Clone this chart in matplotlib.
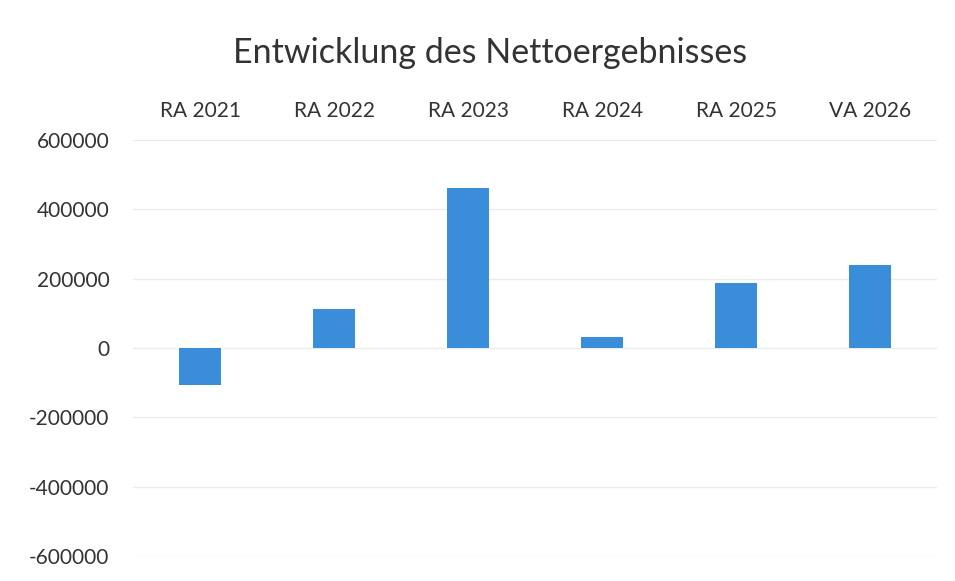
import matplotlib.pyplot as plt
import numpy as np

plt.rcParams['font.family'] = ['Lato', 'DejaVu Sans']

# Daten
jahre = ["RA 2021", "RA 2022", "RA 2023", "RA 2024", "RA 2025", "VA 2026"]
nettoergebnis = [-108000, 113000, 461000, 33000, 187000, 240000]
y_ticks = [-600000, -400000, -200000, 0, 200000, 400000, 600000]

fig = plt.figure(figsize=(9.55, 5.81), dpi=100)
ax = fig.add_axes([133 / 955, 1 - 556 / 581, (937 - 133) / 955, (556 - 140) / 581])

x = np.arange(len(jahre))
ax.bar(x, nettoergebnis, width=0.32, color="#3a8dd8", zorder=3)

ax.set_xlim(-0.5, len(jahre) - 0.5)
ax.set_ylim(-600000, 600000)
ax.set_yticks(y_ticks)
ax.set_yticklabels([str(v) for v in y_ticks], fontsize=15, color="#333333")
ax.yaxis.grid(True, color="#ececec", linewidth=1, zorder=0)

ax.xaxis.tick_top()
ax.set_xticks(x)
ax.set_xticklabels(jahre, fontsize=15, color="#333333")
ax.tick_params(axis="both", length=0)
ax.tick_params(axis="y", pad=17)
ax.tick_params(axis="x", pad=14)

for s in ax.spines.values():
    s.set_visible(False)

fig.text(490 / 955, 1 - 53 / 581, "Entwicklung des Nettoergebnisses",
         fontsize=24.5, color="#333333", ha="center", va="center")

fig.savefig("out.png", dpi=100)
